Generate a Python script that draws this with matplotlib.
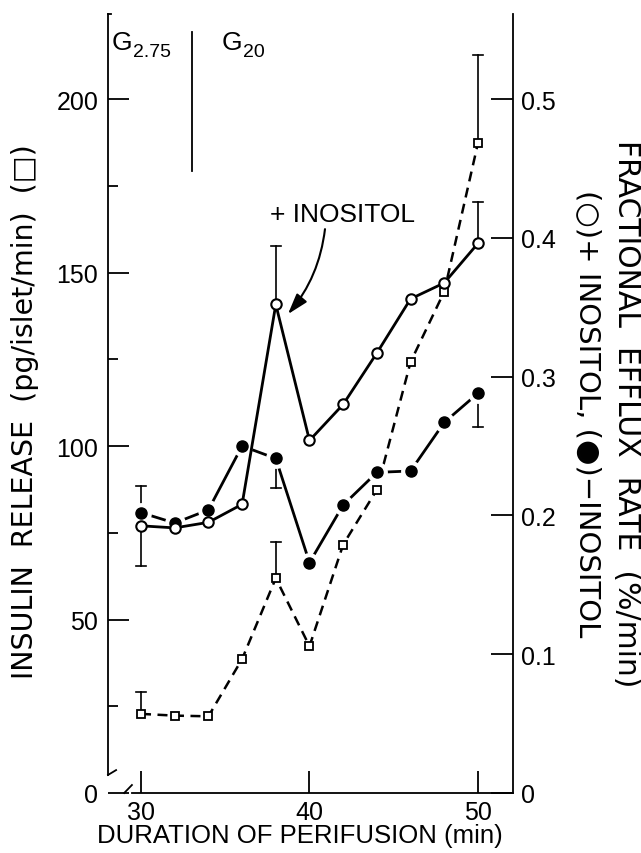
import numpy as np
import matplotlib
matplotlib.use('Agg')
import matplotlib.pyplot as plt

plt.rcParams['font.family'] = ['Liberation Sans', 'DejaVu Sans']

# time points (min)
minutes = [30, 32, 34, 36, 38, 40, 42, 44, 46, 48, 50]

# insulin release, pg/islet/min (squares, left axis)
insulin = [22.8, 22.3, 22.1, 38.6, 61.9, 42.3, 71.6, 87.4, 124.2, 144.5, 187.3]
insulin_err_x = [30, 38, 50]
insulin_err_up = [6.2, 10.5, 25.4]

# fractional efflux rate, %/min (right axis)
efflux_plus = [0.1925, 0.191, 0.195, 0.208, 0.352, 0.254, 0.280, 0.317, 0.356, 0.3675, 0.396]
efflux_minus = [0.202, 0.1945, 0.204, 0.250, 0.241, 0.166, 0.2075, 0.231, 0.232, 0.267, 0.288]
plus_err_x = [30, 30, 38, 50]
plus_err = [0.029, -0.029, 0.042, 0.030]      # signed: + up, - down
minus_err_x = [38, 50]
minus_err = [-0.021, -0.024]

left_ticks = [0, 50, 100, 150, 200]
right_ticks = [0, 0.1, 0.2, 0.3, 0.4, 0.5]
right_ticklabels = ['0', '0.1', '0.2', '0.3', '0.4', '0.5']
x_ticks = [30, 40, 50]

fig = plt.figure(figsize=(6.41, 8.54), dpi=100)
ax = fig.add_axes([108/641, 1-794/854, 405/641, 779/854])
ax2 = ax.twinx()

xmin, xmax = 28.04, 52.08
ymax = 224.5
ax.set_xlim(xmin, xmax)
ax.set_ylim(0, ymax)
ax2.set_ylim(0, ymax/400)

lw = 2.0
# -inositol (filled), segments broken near markers
ax2.plot(minutes, efflux_minus, '-', color='k', lw=lw, zorder=2)
ax2.plot(minutes, efflux_minus, 'o', color='white', ms=15, mec='none', zorder=2.5)
ax2.plot(minutes, efflux_minus, 'o', color='k', ms=8, zorder=2.6)
# +inositol (open)
ax2.plot(minutes, efflux_plus, '-o', color='k', lw=lw, ms=7.5, mfc='white', mec='k', mew=1.5, zorder=3)
# insulin (squares)
ax.plot(minutes, insulin, '--s', color='k', lw=1.8, dashes=(4, 2.6), ms=6, mfc='white', mec='k', mew=1.3, zorder=3)

# error bars, one-sided
def bars(a, xs, ys, errs, cap=0.28):
    for x, y, e in zip(xs, ys, errs):
        a.plot([x, x], [y, y + e], color='k', lw=1.2, zorder=1.5)
        a.plot([x - cap, x + cap], [y + e, y + e], color='k', lw=1.2, zorder=1.5)

bars(ax, insulin_err_x, [insulin[minutes.index(x)] for x in insulin_err_x], insulin_err_up)
bars(ax2, plus_err_x, [efflux_plus[minutes.index(x)] for x in plus_err_x], plus_err)
bars(ax2, minus_err_x, [efflux_minus[minutes.index(x)] for x in minus_err_x], minus_err)

# spines
for a in (ax, ax2):
    a.spines['top'].set_visible(False)
    for s in a.spines.values():
        s.set_linewidth(1.3)
ax2.spines['left'].set_visible(False)
ax2.spines['bottom'].set_visible(False)
ax.spines['right'].set_visible(False)
ax.spines['bottom'].set_bounds(29.46, xmax)
ax.spines['left'].set_bounds(5.2, ymax)

# break marks
ax.plot([xmin, xmin + 0.48], [5.2, 6.6], color='k', lw=1.3, clip_on=False)
ax.plot([29.0, 29.46], [0, 2.3], color='k', lw=1.3, clip_on=False)
ax.plot([xmin, xmin + 0.2], [ymax, ymax], color='k', lw=1.3, clip_on=False)

# ticks
ax.set_yticks(left_ticks)
ax.set_yticks([25, 75, 125, 175], minor=True)
ax.set_xticks(x_ticks)
ax.tick_params(axis='y', which='major', direction='in', length=15, width=1.3, labelsize=18, pad=7)
ax.tick_params(axis='y', which='minor', direction='in', length=7, width=1.3)
ax.tick_params(axis='x', direction='in', length=16, width=1.3, labelsize=18, pad=5)
ax2.set_yticks(right_ticks)
ax2.set_yticklabels(right_ticklabels)
ax2.tick_params(axis='y', direction='in', length=16, width=1.3, labelsize=18, pad=6)

# labels
fig.text(25/641, 1-412/854, 'INSULIN  RELEASE  (pg/islet/min)  (\u25a1)', rotation=90,
         ha='center', va='center', fontsize=20.5, family=['DejaVu Sans'])
fig.text(626/641, 1-414/854, 'FRACTIONAL  EFFLUX  RATE  (%/min)', rotation=-90,
         ha='center', va='center', fontsize=21.5, family=['DejaVu Sans'])
fig.text(588/641, 1-414/854, '(\u25cb)+ INOSITOL, (\u25cf)\u2212INOSITOL', rotation=-90,
         ha='center', va='center', fontsize=21, family=['DejaVu Sans'])
fig.text(300/641, 1-836/854, 'DURATION OF PERIFUSION (min)', ha='center', va='center', fontsize=18.5)

# glucose change
ax.text(28.24, 216.5, 'G', fontsize=19, ha='left', va='center')
ax.text(29.5, 213.8, '2.75', fontsize=14, ha='left', va='center')
ax.text(34.8, 216.5, 'G', fontsize=19, ha='left', va='center')
ax.text(36.06, 213.8, '20', fontsize=14, ha='left', va='center')
ax.plot([33.04, 33.04], [179.3, 219.3], color='k', lw=1.3)

# annotation
ax.annotate('', xy=(38.72, 138), xytext=(40.92, 162.5),
            arrowprops=dict(arrowstyle='-|>,head_length=0.7,head_width=0.22',
                            connectionstyle='arc3,rad=-0.15',
                            lw=1.5, color='k', mutation_scale=18, shrinkA=0, shrinkB=0))
ax.text(37.65, 164.8, '+ INOSITOL', fontsize=19, ha='left', va='baseline')

fig.savefig('out.png', dpi=100)
